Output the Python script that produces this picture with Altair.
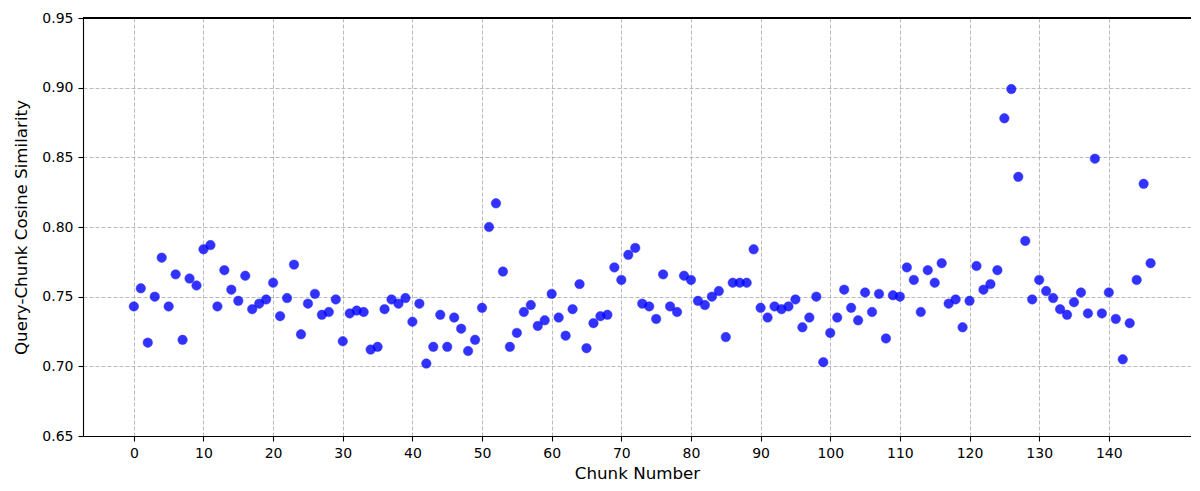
import altair as alt
import pandas as pd

chunks = list(range(147))
similarity = [
    0.743, 0.756, 0.717, 0.750, 0.778, 0.743, 0.766, 0.719, 0.763, 0.758,
    0.784, 0.787, 0.743, 0.769, 0.755, 0.747, 0.765, 0.741, 0.745, 0.748,
    0.760, 0.736, 0.749, 0.773, 0.723, 0.745, 0.752, 0.737, 0.739, 0.748,
    0.718, 0.738, 0.740, 0.739, 0.712, 0.714, 0.741, 0.748, 0.745, 0.749,
    0.732, 0.745, 0.702, 0.714, 0.737, 0.714, 0.735, 0.727, 0.711, 0.719,
    0.742, 0.800, 0.817, 0.768, 0.714, 0.724, 0.739, 0.744, 0.729, 0.733,
    0.752, 0.735, 0.722, 0.741, 0.759, 0.713, 0.731, 0.736, 0.737, 0.771,
    0.762, 0.780, 0.785, 0.745, 0.743, 0.734, 0.766, 0.743, 0.739, 0.765,
    0.762, 0.747, 0.744, 0.750, 0.754, 0.721, 0.760, 0.760, 0.760, 0.784,
    0.742, 0.735, 0.743, 0.741, 0.743, 0.748, 0.728, 0.735, 0.750, 0.703,
    0.724, 0.735, 0.755, 0.742, 0.733, 0.753, 0.739, 0.752, 0.720, 0.751,
    0.750, 0.771, 0.762, 0.739, 0.769, 0.760, 0.774, 0.745, 0.748, 0.728,
    0.747, 0.772, 0.755, 0.759, 0.769, 0.878, 0.899, 0.836, 0.790, 0.748,
    0.762, 0.754, 0.749, 0.741, 0.737, 0.746, 0.753, 0.738, 0.849, 0.738,
    0.753, 0.734, 0.705, 0.731, 0.762, 0.831, 0.774,
]
x_ticks = list(range(0, 141, 10))
y_ticks = [0.65, 0.70, 0.75, 0.80, 0.85, 0.90, 0.95]

df = pd.DataFrame({"chunk": chunks, "sim": similarity})

font = "DejaVu Sans"
W, H = 1108, 418

points = alt.Chart(df).mark_circle(
    size=90, color="blue", opacity=0.8, stroke="blue", strokeWidth=0.5
).encode(
    x=alt.X("chunk:Q", title="Chunk Number",
            scale=alt.Scale(domain=[-7.3, 151.8], nice=False, zero=False),
            axis=alt.Axis(values=x_ticks, format="d", labelFontSize=14,
                          titleFontSize=16.7, titlePadding=5, labelPadding=5,
                          tickSize=5, labelFlush=False)),
    y=alt.Y("sim:Q", title="Query-Chunk Cosine Similarity",
            scale=alt.Scale(domain=[0.65, 0.95], nice=False, zero=False),
            axis=alt.Axis(values=y_ticks, format=".2f", labelFontSize=14,
                          titleFontSize=16.7, titlePadding=11, labelPadding=5,
                          tickSize=5, labelFlush=False)),
)

top_spine = alt.Chart(df).mark_rule(color="black", strokeWidth=1.1).encode(
    x=alt.value(0), x2=alt.value(W), y=alt.value(0)
)

chart = alt.layer(points, top_spine).properties(
    width=W, height=H,
    padding={"left": 75, "top": 10, "right": 0, "bottom": 47},
    autosize=alt.AutoSizeParams(type="none"),
).configure_view(
    stroke=None
).configure_axis(
    labelFont=font, titleFont=font, labelColor="black", titleColor="black",
    titleFontWeight="normal", domainColor="black", domainWidth=1.1,
    tickColor="black", tickWidth=1.1,
    grid=True, gridColor="#a0a0a0", gridDash=[4, 2], gridWidth=0.8, gridOpacity=0.9,
)

chart.save("out.html", embed_options={"renderer": "svg", "actions": False})
